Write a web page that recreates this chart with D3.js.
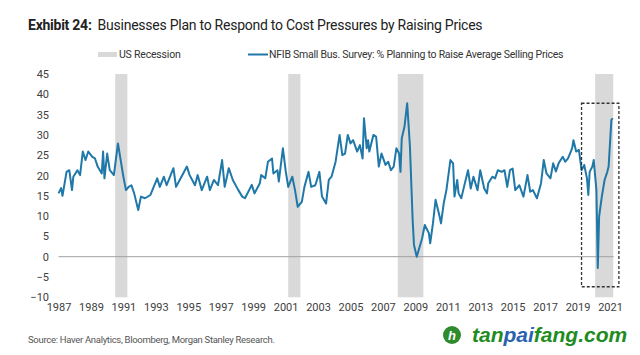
<!DOCTYPE html>
<html><head><meta charset="utf-8">
<script src="https://cdn.jsdelivr.net/npm/d3@7"></script>
<style>
body{margin:0;background:#fff;}
svg{display:block;}
</style></head>
<body>
<svg id="c" width="640" height="355"></svg>
<script>
const titleBold = "Exhibit 24:";
const titleText = "Businesses Plan to Respond to Cost Pressures by Raising Prices";
const legendLabels = ["US Recession", "NFIB Small Bus. Survey: % Planning to Raise Average Selling Prices"];
const sourceText = "Source: Haver Analytics, Bloomberg, Morgan Stanley Research.";
const yTicks = [45, 40, 35, 30, 25, 20, 15, 10, 5, 0, -5, -10];
const xTickYears = [1987,1989,1991,1993,1995,1997,1999,2001,2003,2005,2007,2009,2011,2013,2015,2017,2019,2021];
const recessionStarts = ["1990-07-01","2001-03-01","2007-12-01","2020-02-01"];
const recessionEnds   = ["1991-03-31","2001-11-30","2009-06-30","2021-03-15"];
const highlightBox = {start:"2019-04-01", end:"2021-07-20", top:37.8, bottom:-7.4};

const dates = ["1987-01","1987-03","1987-04","1987-07","1987-09","1987-11","1987-12","1988-03","1988-05","1988-07","1988-09","1988-11",
"1989-02","1989-04","1989-06","1989-09","1989-10","1989-11","1990-01","1990-03","1990-06","1990-09","1990-11",
"1991-01","1991-03","1991-05","1991-07","1991-09","1991-12","1992-02","1992-05","1992-09",
"1993-02","1993-04","1993-07","1993-09","1993-11","1994-02","1994-04","1994-08","1994-12",
"1995-02","1995-06","1995-08","1995-11","1996-03","1996-05","1996-08","1996-11",
"1997-02","1997-04","1997-07","1997-10","1998-02","1998-05","1998-07","1998-12",
"1999-02","1999-06","1999-07","1999-10","1999-12","2000-03","2000-04","2000-07","2000-08","2000-11",
"2001-01","2001-03","2001-06","2001-08","2001-10","2002-01","2002-03","2002-06","2002-08","2002-11",
"2003-02","2003-04","2003-07","2003-09","2003-11","2004-02","2004-05","2004-07","2004-09","2004-11",
"2005-01","2005-03","2005-06","2005-08","2005-10","2005-11","2006-01","2006-02","2006-03","2006-06","2006-08","2006-10","2006-12",
"2007-03","2007-05","2007-07","2007-09","2007-11","2008-01","2008-02","2008-03","2008-05","2008-07","2008-09","2008-11","2008-12",
"2009-02","2009-06","2009-08","2009-11","2009-12","2010-02","2010-04","2010-07","2010-08","2010-10","2010-12",
"2011-03","2011-05","2011-06","2011-08","2011-09","2011-11","2012-01","2012-04","2012-06","2012-08","2012-11",
"2013-01","2013-04","2013-06","2013-07","2013-10","2013-12","2014-02","2014-05","2014-07","2014-09","2014-11",
"2015-01","2015-03","2015-06","2015-09","2015-12","2016-02","2016-04","2016-07","2016-10","2016-12",
"2017-02","2017-05","2017-07","2017-09","2017-11","2018-02","2018-04","2018-06","2018-09","2018-10","2018-12",
"2019-02","2019-04","2019-06","2019-08","2019-09","2019-10","2019-12","2020-01","2020-03","2020-04","2020-05",
"2020-07","2020-09","2020-11","2020-12","2021-02","2021-03"];
const values = [15.6,16.9,15.0,20.9,21.3,16.4,19.7,21.3,20.1,25.9,23.8,25.9,
24.6,24.2,22.2,20.5,25.9,19.3,25.4,21.3,20.1,27.9,23.8,
19.7,16.4,17.2,17.6,15.6,11.5,14.8,14.4,15.2,
19.3,17.2,19.7,17.6,19.3,21.8,17.2,19.7,22.2,
20.1,17.6,20.1,16.4,19.7,16.4,18.9,17.6,
23.8,17.2,21.8,18.9,16.4,14.8,14.4,17.7,
15.6,18.1,20.1,19.3,23.4,24.2,20.5,21.3,18.5,26.7,
21.3,17.2,19.7,16.4,12.3,13.5,17.2,20.9,17.2,17.6,
20.9,14.8,13.1,18.9,19.7,23.4,30.0,25.0,25.4,30.0,
27.9,28.7,25.9,27.5,24.2,34.1,26.7,28.7,25.9,30.0,29.6,22.2,25.4,
22.6,23.4,21.3,22.2,26.7,25.4,20.9,29.2,32.0,37.8,27.1,9.0,2.9,
0.0,4.5,7.8,5.8,3.3,8.2,14.0,9.9,8.2,13.1,16.4,
23.8,23.0,14.8,18.9,15.6,14.4,17.2,21.3,16.8,19.7,16.4,
21.3,16.8,15.6,18.1,19.7,19.3,21.3,20.9,21.3,17.2,21.3,
21.7,16.4,17.6,14.8,20.1,16.0,16.4,14.4,18.1,23.8,
20.5,19.3,23.0,21.0,23.0,24.6,23.4,24.2,26.7,28.7,25.9,
26.3,21.3,22.6,19.3,15.2,20.9,22.2,23.8,16.4,-2.8,9.9,
14.8,18.9,20.9,22.2,33.7,34.1];

const parse = d3.timeParse("%Y-%m");
const parseD = d3.timeParse("%Y-%m-%d");
const data = dates.map((d,i)=>({date:parse(d), value:values[i]}));

const svg = d3.select("#c");
const FONT = "'Roboto', 'Liberation Sans', sans-serif";

const x = d3.scaleTime().domain([new Date(1987,0,1), new Date(2021,0,1)]).range([58.5, 610]);
const y = d3.scaleLinear().domain([-10, 45]).range([297.3, 74]);

// recession bands
svg.append("g").selectAll("rect").data(recessionStarts).join("rect")
  .attr("x", (d)=>x(parseD(d)))
  .attr("width", (d,i)=>x(parseD(recessionEnds[i]))-x(parseD(d)))
  .attr("y", y(45)).attr("height", y(-10)-y(45))
  .attr("fill", "#d9d9d9");

// zero line
const ext = d3.extent(data, d=>d.date);
svg.append("line")
  .attr("x1", x(ext[0])).attr("x2", x(ext[1])+1)
  .attr("y1", y(0)).attr("y2", y(0))
  .attr("stroke", "#a0a0a0").attr("stroke-width", 1);

// series line
svg.append("path").datum(data)
  .attr("fill","none").attr("stroke","#1f78a8").attr("stroke-width",2)
  .attr("stroke-linejoin","round")
  .attr("d", d3.line().x(d=>x(d.date)).y(d=>y(d.value)));

// highlight dashed box
svg.append("rect")
  .attr("x", x(parseD(highlightBox.start)))
  .attr("width", x(parseD(highlightBox.end)) - x(parseD(highlightBox.start)))
  .attr("y", y(highlightBox.top))
  .attr("height", y(highlightBox.bottom) - y(highlightBox.top))
  .attr("fill","none").attr("stroke","#333").attr("stroke-width",1.3)
  .attr("stroke-dasharray","3,2");

// y axis
const yAxis = svg.append("g").attr("transform","translate(49,0)")
  .call(d3.axisLeft(y).tickValues(yTicks).tickSize(0).tickPadding(0));
yAxis.select(".domain").remove();
yAxis.selectAll("text").attr("font-family", FONT)
  .attr("font-size", 11).attr("fill","#404040");

// x axis
const xAxis = svg.append("g").attr("transform","translate(0,303)")
  .call(d3.axisBottom(x).tickValues(xTickYears.map(yy=>new Date(yy,0,1)))
    .tickFormat(d3.timeFormat("%Y")).tickSize(0).tickPadding(0));
xAxis.select(".domain").remove();
xAxis.selectAll("text").attr("font-family", FONT)
  .attr("font-size", 11).attr("fill","#404040");

// title
const t = svg.append("text").attr("x",28).attr("y",30)
  .attr("font-family",FONT).attr("font-size",14).attr("fill","#222")
  .attr("letter-spacing", -0.25);
t.append("tspan").attr("font-weight","bold").text(titleBold);
t.append("tspan").attr("dx",6).text(titleText);

// legend
svg.append("rect").attr("x",98).attr("y",52).attr("width",19).attr("height",5).attr("fill","#d9d9d9");
svg.append("text").attr("x",119).attr("y",58).attr("font-family",FONT).attr("font-size",10.5)
  .attr("letter-spacing",-0.2).attr("fill","#333").text(legendLabels[0]);
svg.append("line").attr("x1",248).attr("x2",268).attr("y1",54.5).attr("y2",54.5).attr("stroke","#1f78a8").attr("stroke-width",2);
svg.append("text").attr("x",269).attr("y",58).attr("font-family",FONT).attr("font-size",10.5)
  .attr("letter-spacing",-0.25).attr("fill","#333").text(legendLabels[1]);

// source
svg.append("text").attr("x",28).attr("y",343).attr("font-family",FONT).attr("font-size",9.5)
  .attr("letter-spacing",-0.3).attr("fill","#555").text(sourceText);

// watermark
svg.append("circle").attr("cx",452).attr("cy",335).attr("r",9).attr("fill","#2e8b2e");
svg.append("text").attr("x",452).attr("y",340).attr("text-anchor","middle")
  .attr("font-family","'Liberation Sans', sans-serif").attr("font-weight","bold").attr("font-style","italic")
  .attr("font-size",13).attr("fill","#fff").text("h");
const wm = svg.append("text").attr("x",472).attr("y",342)
  .attr("font-family","'Liberation Sans', 'DejaVu Sans', sans-serif").attr("font-weight","bold").attr("font-style","italic")
  .attr("font-size",21).attr("fill","#1e8c1e");
wm.append("tspan").text("tan");
wm.append("tspan").attr("fill","#2a62b0").text("pai");
wm.append("tspan").text("fang.com");
</script>
</body></html>
